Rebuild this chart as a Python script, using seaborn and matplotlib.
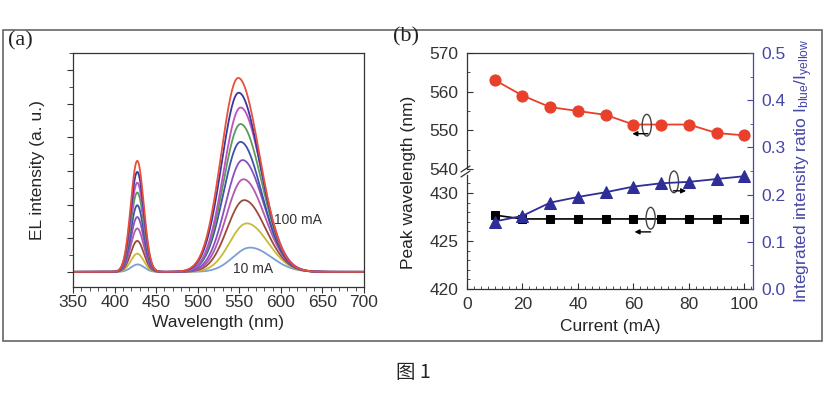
import numpy as np
import pandas as pd
import matplotlib
matplotlib.use("Agg")
import matplotlib.pyplot as plt
import seaborn as sns
from matplotlib.patches import Ellipse, Rectangle
from matplotlib.lines import Line2D
from matplotlib.ticker import MultipleLocator

# ---------------- data ----------------
currents = [10, 20, 30, 40, 50, 60, 70, 80, 90, 100]                      # mA
yellow_peak_nm = [563.0, 559.0, 556.0, 555.0, 554.0, 551.5, 551.5, 551.5, 549.3, 548.7]
blue_peak_nm = [427.7, 427.3, 427.3, 427.3, 427.3, 427.3, 427.3, 427.3, 427.3, 427.3]
ratio = [0.143, 0.155, 0.183, 0.195, 0.205, 0.217, 0.224, 0.227, 0.233, 0.239]
blue_height = [0.22, 0.54, 0.92, 1.29, 1.63, 1.98, 2.36, 2.65, 2.97, 3.30]   # a.u.
yellow_height = [0.72, 1.44, 2.13, 2.75, 3.32, 3.86, 4.39, 4.88, 5.32, 5.76]  # a.u.
blue_sigma_nm = 7.8
yellow_sigma_left_nm = 20.5
yellow_sigma_right_nm = 25.5
curve_colors = ["#7b9fd4", "#c9b938", "#9c4a3c", "#b05ab0", "#8a4fc0",
                "#3f51a8", "#5a9a5a", "#c050c0", "#3838a0", "#e8503a"]

# ---------------- spectra table ----------------
wl = np.arange(350, 701, 1.0)
rows = []
for c, bh, bp, yh, yp in zip(currents, blue_height, blue_peak_nm, yellow_height, yellow_peak_nm):
    sig = np.where(wl < yp, yellow_sigma_left_nm, yellow_sigma_right_nm)
    inten = bh * np.exp(-(wl - bp) ** 2 / (2 * blue_sigma_nm ** 2)) + \
        yh * np.exp(-(wl - yp) ** 2 / (2 * sig ** 2))
    rows.append(pd.DataFrame({"wl": wl, "I": inten, "cur": f"{c} mA"}))
spec = pd.concat(rows, ignore_index=True)
df_b = pd.DataFrame({"cur": currents, "yellow": yellow_peak_nm,
                     "blue": blue_peak_nm, "ratio": ratio})

# ---------------- style ----------------
sns.set_style("ticks")
plt.rcParams["font.family"] = ["Liberation Sans", "Noto Sans CJK SC", "DejaVu Sans"]
plt.rcParams["mathtext.fontset"] = "custom"
plt.rcParams["mathtext.rm"] = "Liberation Sans"
plt.rcParams["mathtext.it"] = "Liberation Sans"
FS = 12.5
W, H = 833, 393
fig = plt.figure(figsize=(W / 100, H / 100), dpi=100)


def fx(px):
    return px / W


def fy(py):
    return (H - py) / H


axcol = "#333333"
bluecol = "#4646a6"

# ---------------- panel (a) ----------------
axA = fig.add_axes([fx(73), fy(287), fx(364) - fx(73), fy(53) - fy(287)])
sns.lineplot(data=spec, x="wl", y="I", hue="cur", palette=curve_colors,
             legend=False, ax=axA, linewidth=1.3, sort=False)
axA.set_xlim(350, 700)
axA.set_ylim(-0.45, 6.5)
axA.set_xticks(range(350, 701, 50))
axA.xaxis.set_minor_locator(MultipleLocator(10))
axA.yaxis.set_major_locator(MultipleLocator(1))
axA.yaxis.set_minor_locator(MultipleLocator(0.5))
axA.set_yticklabels([])
axA.tick_params(axis="both", which="both", direction="out", colors=axcol,
                labelsize=FS, pad=2, top=False, right=False)
axA.tick_params(which="major", length=4)
axA.tick_params(which="minor", length=3)
for s in axA.spines.values():
    s.set_color(axcol)
    s.set_linewidth(0.9)
axA.set_xlabel("Wavelength (nm)", fontsize=FS, labelpad=3)
axA.set_ylabel("EL intensity (a. u.)", fontsize=FS, labelpad=14)
axA.text(592, 1.54, "100 mA", fontsize=10, va="center", ha="left", color="#333")
axA.text(542.4, 0.08, "10 mA", fontsize=10, va="center", ha="left", color="#333")

# ---------------- panel (b) ----------------
x0, x1 = fx(467), fx(753)
axU = fig.add_axes([x0, fy(169), x1 - x0, fy(53) - fy(169)])
axL = fig.add_axes([x0, fy(289), x1 - x0, fy(174.8) - fy(289)])
axR = fig.add_axes([x0, fy(289), x1 - x0, fy(53) - fy(289)], facecolor="none")
axR.set_zorder(5)

xlim_b = (0, 103.1)
sns.lineplot(data=df_b, x="cur", y="yellow", ax=axU, color="#e8402a",
             marker="o", markersize=8, markeredgecolor="#e8402a", linewidth=1.3)
sns.lineplot(data=df_b, x="cur", y="blue", ax=axL, color="black",
             marker="s", markersize=6, markeredgecolor="black", linewidth=1.2)
sns.lineplot(data=df_b, x="cur", y="ratio", ax=axR, color="#2e2e96",
             marker="^", markersize=8, markeredgecolor="#2e2e96", linewidth=1.3)

for ax in (axU, axL, axR):
    ax.set_xlim(*xlim_b)
    ax.set_xlabel("")
    ax.set_ylabel("")
    ax.set_facecolor("none")

axU.set_ylim(540, 570)
axU.set_yticks([540, 550, 560, 570])
axU.yaxis.set_minor_locator(MultipleLocator(5))
axU.spines["bottom"].set_visible(False)
axU.spines["right"].set_visible(False)
axU.tick_params(axis="x", which="both", bottom=False, labelbottom=False)

axL.set_ylim(420, 431.9)
axL.set_yticks([420, 425, 430])
axL.yaxis.set_minor_locator(MultipleLocator(1))
axL.spines["top"].set_visible(False)
axL.spines["right"].set_visible(False)
axL.set_xticks(range(0, 101, 20))
axL.xaxis.set_minor_locator(MultipleLocator(2.5))
axL.set_xlabel("Current (mA)", fontsize=FS, labelpad=5)

for ax in (axU, axL):
    ax.tick_params(axis="both", which="both", direction="in", colors=axcol,
                   labelsize=FS, pad=6)
    ax.tick_params(which="major", length=4)
    ax.tick_params(which="minor", length=2.5)
    for s in ax.spines.values():
        s.set_color(axcol)
        s.set_linewidth(0.9)

axR.set_ylim(0, 0.5)
axR.set_yticks([0.0, 0.1, 0.2, 0.3, 0.4, 0.5])
axR.set_yticklabels(["0.0", "0.1", "0.2", "0.3", "0.4", "0.5"])
axR.yaxis.set_minor_locator(MultipleLocator(0.05))
axR.yaxis.tick_right()
axR.yaxis.set_label_position("right")
for k in ("left", "top", "bottom"):
    axR.spines[k].set_visible(False)
axR.spines["right"].set_color(bluecol)
axR.spines["right"].set_linewidth(0.9)
axR.tick_params(axis="x", which="both", bottom=False, labelbottom=False)
axR.tick_params(axis="y", which="both", direction="in", colors=bluecol,
                labelcolor=bluecol, labelsize=FS, pad=6)
axR.tick_params(axis="y", which="major", length=4)
axR.tick_params(axis="y", which="minor", length=2.5)
axR.set_ylabel(r"Integrated intensity ratio I$_{\rm blue}$/I$_{\rm yellow}$",
               fontsize=FS, color=bluecol, labelpad=5)

fig.text(fx(409), fy(182), "Peak wavelength (nm)", rotation=90, fontsize=FS,
         ha="center", va="center", color="#222")

# axis-break marks
for dy in (0, 5):
    fig.add_artist(Line2D([fx(461), fx(470)], [fy(172 + dy), fy(166 + dy)],
                          transform=fig.transFigure, color=axcol, lw=0.9))

# ellipse + arrow annotations
ann_col = "#444444"
for (cx, cy), (ax0, ax1, ay) in [((64.8, 0.347), (65.2, 59.6, 0.329)),
                                   ((74.6, 0.227), (74.4, 79.0, 0.208)),
                                   ((66.2, 0.150), (66.2, 60.4, 0.121))]:
    axR.add_patch(Ellipse((cx, cy), 3.3, 0.046, fill=False, ec=ann_col, lw=1.0))
    axR.annotate("", xy=(ax1, ay), xytext=(ax0, ay),
                 arrowprops=dict(arrowstyle="-|>", lw=1.0, color="black",
                                 mutation_scale=7, shrinkA=0, shrinkB=0))

# panel labels, frame, caption
fig.text(fx(8), fy(41), "(a)", fontsize=16, family="Liberation Serif",
         ha="left", va="center", color="#222")
fig.text(fx(393), fy(37), "(b)", fontsize=16, family="Liberation Serif",
         ha="left", va="center", color="#222")
fig.add_artist(Rectangle((fx(3), fy(341)), fx(822) - fx(3), fy(30) - fy(341),
                         transform=fig.transFigure, fill=False,
                         ec="#666666", lw=1.2))
fig.text(fx(413), fy(372), "图 1", fontsize=14,
         family=["Noto Sans CJK SC", "DejaVu Sans"], ha="center", va="center")

fig.savefig("out.png", dpi=100)
